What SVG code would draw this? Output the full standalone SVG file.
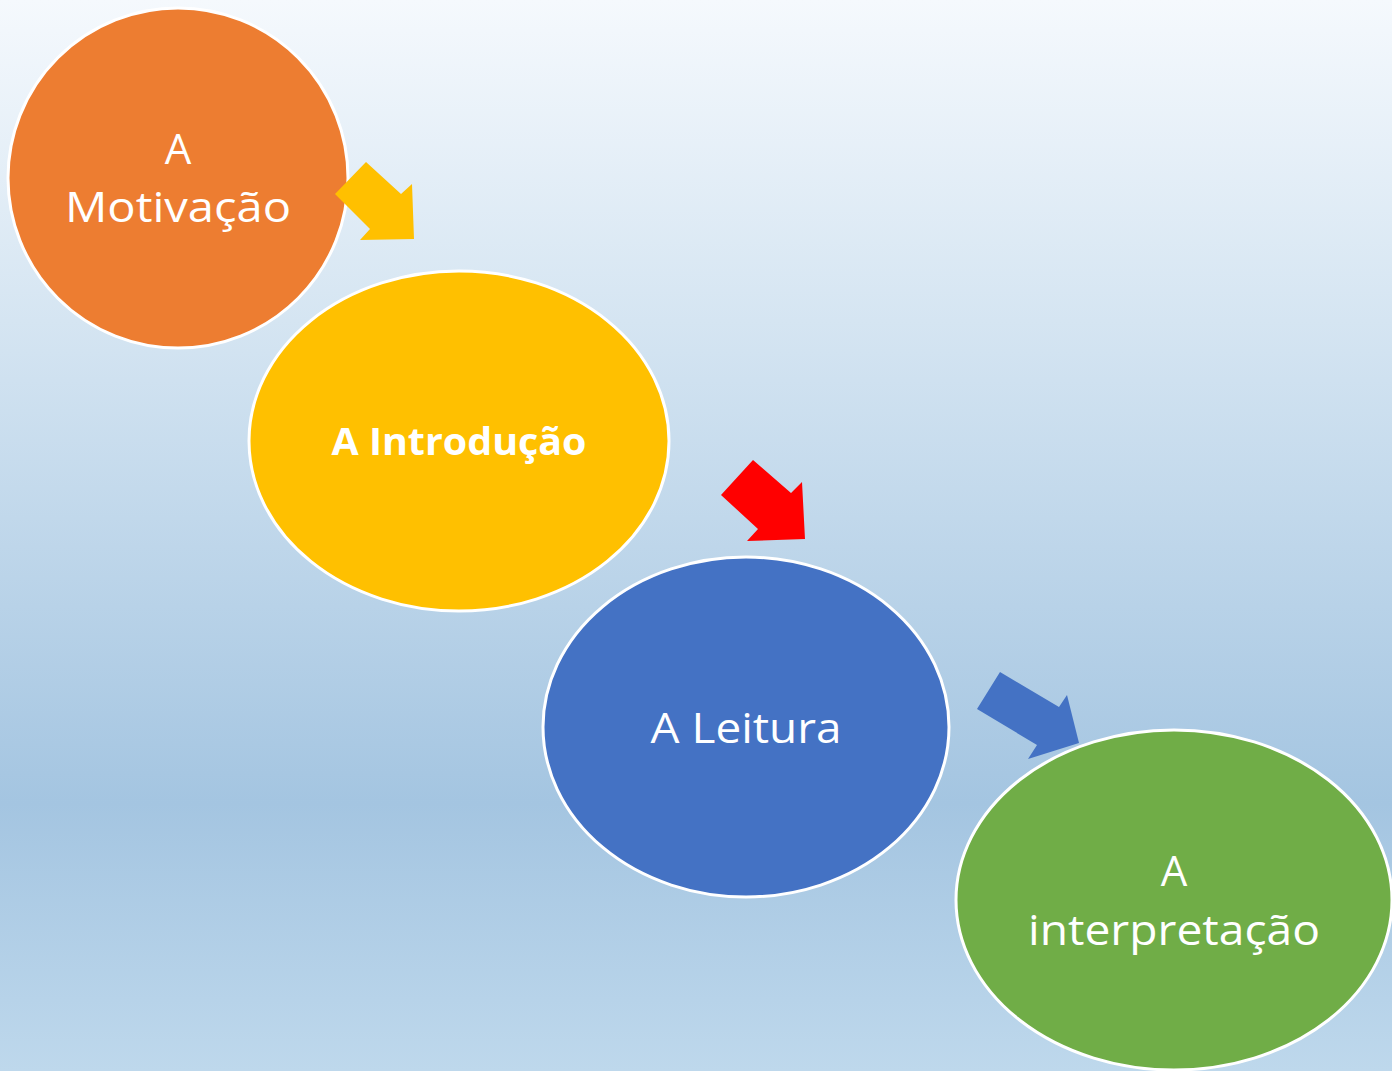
<svg xmlns="http://www.w3.org/2000/svg" width="1392" height="1071" viewBox="0 0 1392 1071">
<defs>
<linearGradient id="bg" x1="0" y1="0" x2="0" y2="1">
<stop offset="0" stop-color="#f5f9fd"/>
<stop offset="0.3" stop-color="#d5e5f2"/>
<stop offset="0.75" stop-color="#a4c5e1"/>
<stop offset="1" stop-color="#bed8ec"/>
</linearGradient>
<style>
.n{stroke:#ffffff;stroke-width:3}
.t{fill:#ffffff;font-family:"Open Sans","Noto Sans",sans-serif;font-size:42px;text-anchor:middle}
.b{font-weight:bold;font-size:38px}
</style>
</defs>
<rect x="0" y="0" width="1392" height="1071" fill="url(#bg)"/>
<g id="motivacao">
<ellipse class="n" cx="178" cy="178" rx="170" ry="170" fill="#ED7D31"/>
<text class="t" x="178" y="164">A</text>
<text class="t" x="178" y="222" textLength="226" lengthAdjust="spacingAndGlyphs">Motivação</text>
</g>
<g id="introducao">
<ellipse class="n" cx="459" cy="441" rx="210" ry="170" fill="#FFC000"/>
<text class="t b" x="459" y="455" textLength="255" lengthAdjust="spacingAndGlyphs">A Introdução</text>
</g>
<g id="leitura">
<ellipse class="n" cx="746" cy="727" rx="203" ry="170" fill="#4472C4"/>
<text class="t" x="746" y="743" textLength="191" lengthAdjust="spacingAndGlyphs">A Leitura</text>
</g>
<g id="connectors">
<polygon points="335,194 366,162 401,194 412,184 414,239 360,240 370,229" fill="#FFC000"/>
<polygon points="721,495 753,460 791,493 802,482 805,539 747,541 758,529" fill="#FF0000"/>
<polygon points="977,709 1000,672 1059,707 1067,695 1079,743 1028,759 1037,745" fill="#4472C4"/>
</g>
<g id="interpretacao">
<ellipse class="n" cx="1174" cy="900" rx="218" ry="170" fill="#70AD47"/>
<text class="t" x="1174" y="886">A</text>
<text class="t" x="1174" y="945" textLength="292" lengthAdjust="spacingAndGlyphs">interpretação</text>
</g>
</svg>
